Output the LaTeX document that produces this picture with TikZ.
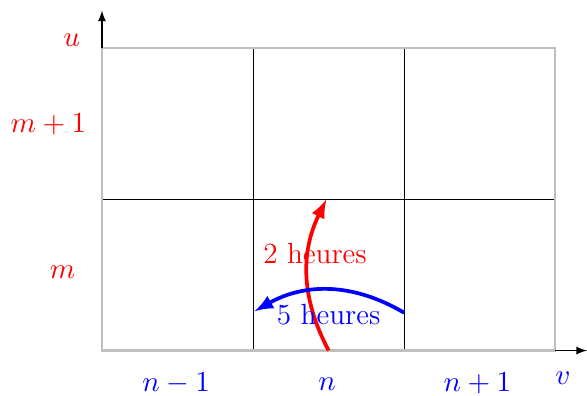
\documentclass[tikz,border=0pt]{standalone}
\usetikzlibrary{arrows}
\tikzset{
  cadre/.style={draw=lightgray, thick},
  trait/.style={draw=black},
  axe/.style={->, >=latex},
  fle/.style={->, >=latex, line width=1.4pt},
  rlab/.style={text=red, font=\fontsize{11}{13}\selectfont},
  blab/.style={text=blue, font=\fontsize{11}{13}\selectfont}
}

\begin{document}
\begin{tikzpicture}
		\useasboundingbox (-1.35,-0.6) rectangle (6.42,4.64);
		% grille
		\draw[trait] (2,0) -- (2,4);
		\draw[trait] (4,0) -- (4,4);
		\draw[trait] (0,2) -- (6,2);
		\draw[cadre] (0,0) rectangle (6,4);
		% axes
		\coordinate (o) at (0,4);
		\coordinate (ot) at (0,4.5);
		\coordinate (x) at (6,0);
		\coordinate (xt) at (6.42,0);
		\draw[axe] (o) -- (ot);
		\draw[axe] (x) -- (xt);
		% etiquettes
		\node[rlab] (u) at (-0.4,4.11) {$u$};
		\node[rlab] (m1) at (-0.71,2.99) {$m+1$};
		\node[rlab] (m) at (-0.52,1.03) {$m$};
		\node[blab] (n0) at (0.98,-0.44) {$n-1$};
		\node[blab] (n) at (2.98,-0.44) {$n$};
		\node[blab] (n1) at (4.97,-0.44) {$n+1$};
		\node[blab] (v) at (6.1,-0.36) {$v$};
		% fleches
		\coordinate (a) at (3,0);
		\coordinate (b) at (2.97,2);
		\coordinate (c) at (4,0.5);
		\coordinate (d) at (2.02,0.52);
		\draw[fle, red] (a) to[bend left=27] (b);
		\draw[fle, blue] (c) to[bend right=30] (d);
		\node[rlab] (t2) at (2.82,1.28) {2 heures};
		\node[blab] (t5) at (3.0,0.48) {5 heures};
	\end{tikzpicture}
\end{document}
